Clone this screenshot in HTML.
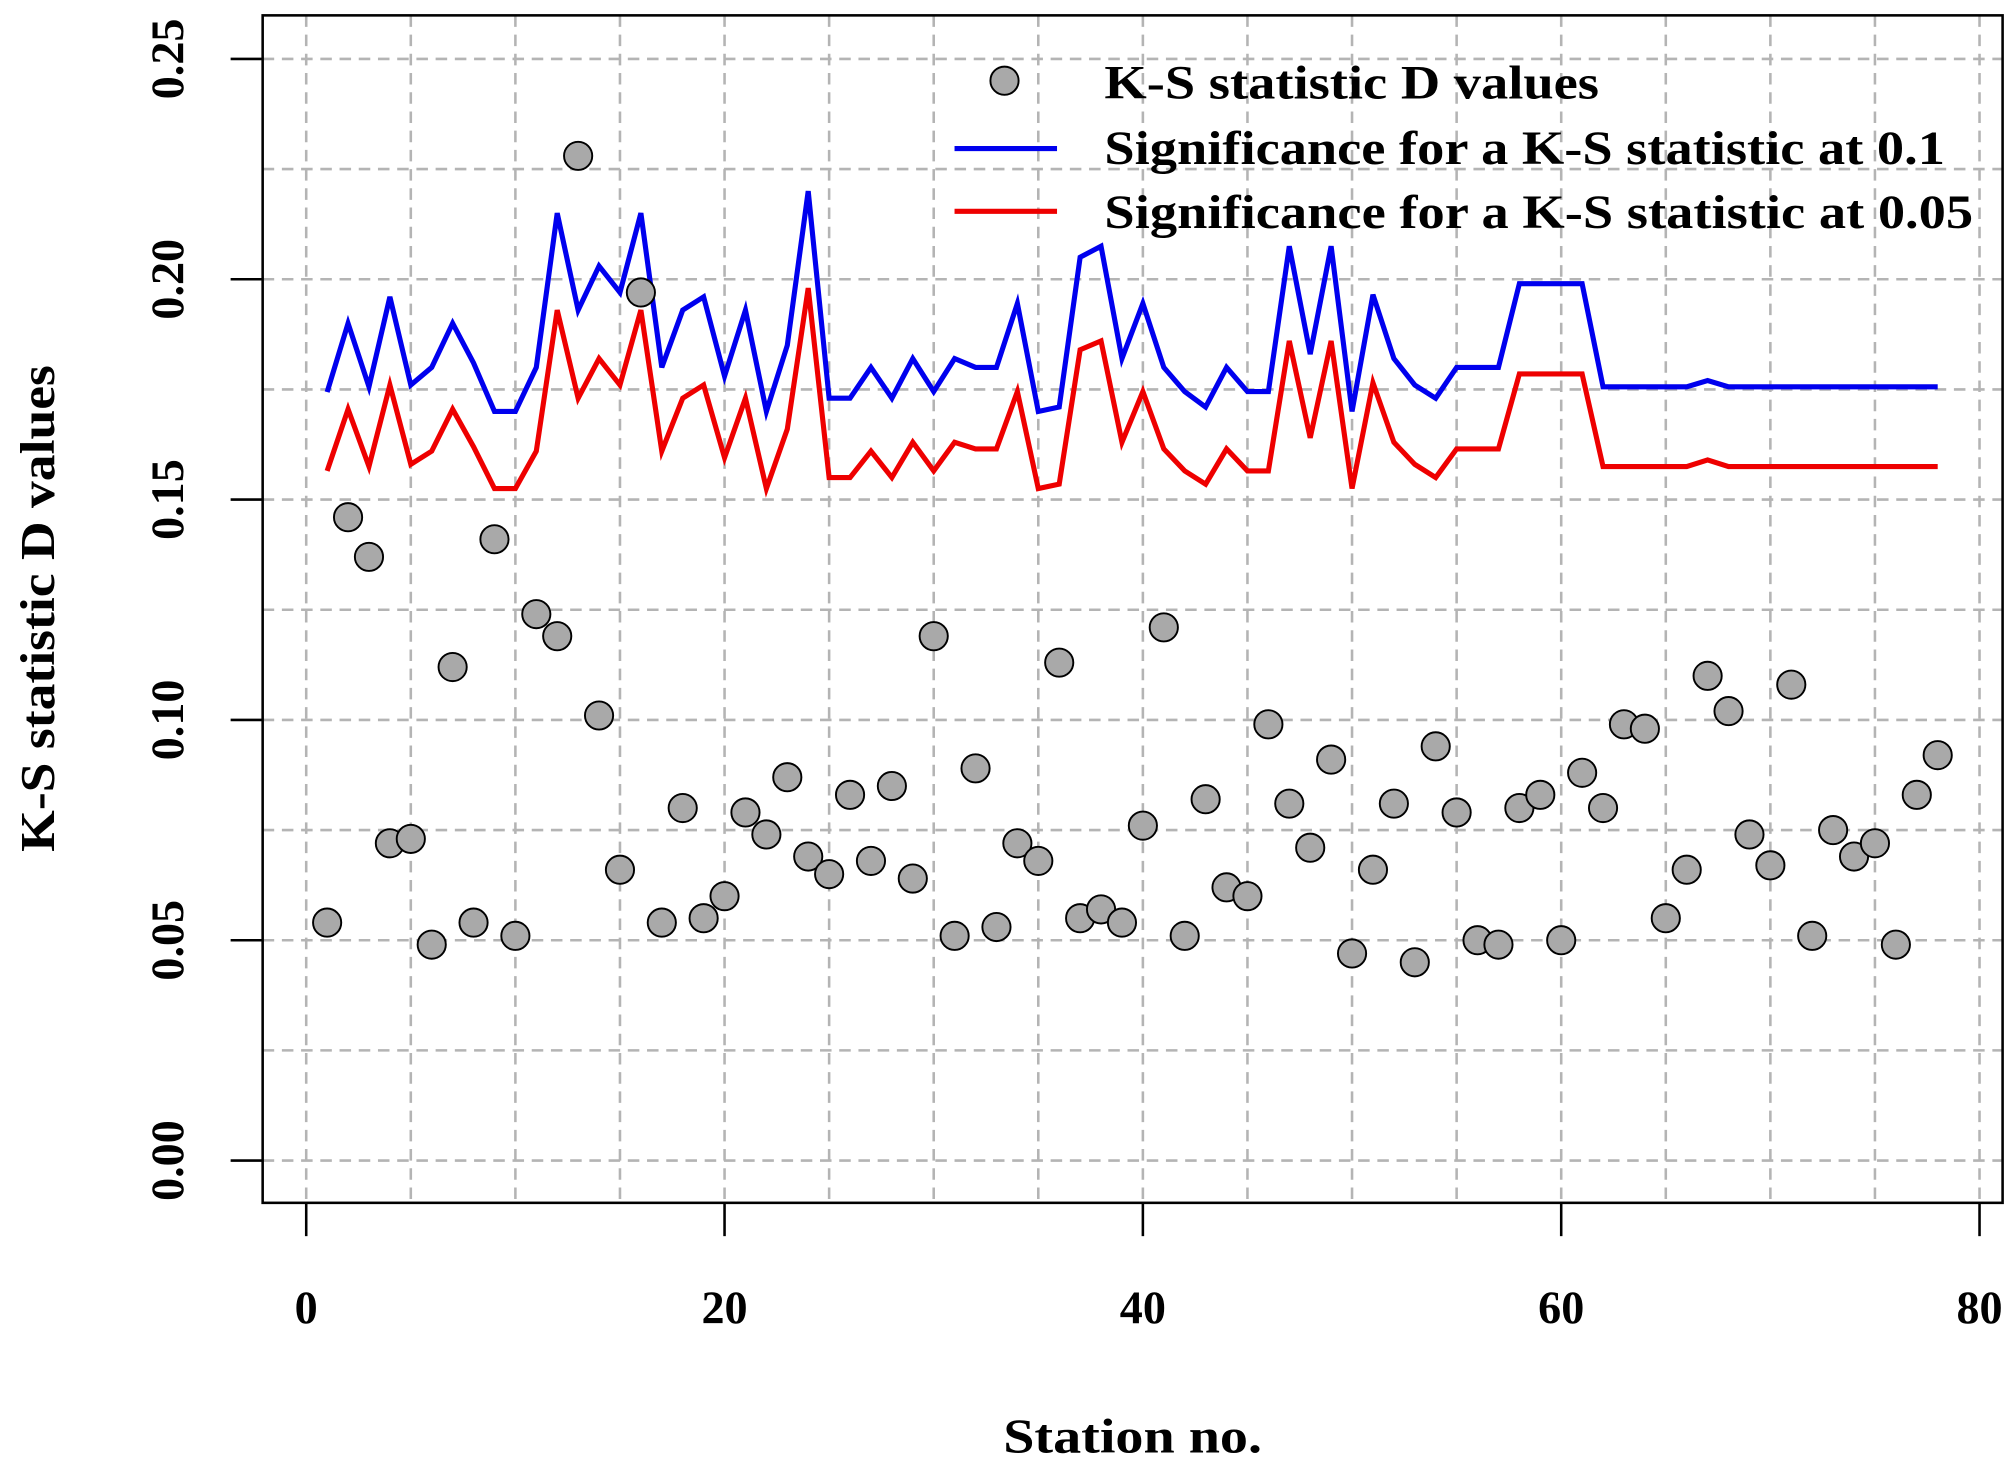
<!DOCTYPE html>
<html><head><meta charset="utf-8"><style>
html,body{margin:0;padding:0;background:#fff}
svg{display:block}
text{font-family:"Liberation Serif",serif;font-weight:bold;fill:#000}
</style></head><body>
<svg id="chart" width="2009" height="1468" viewBox="0 0 1568 1146" preserveAspectRatio="none" xmlns="http://www.w3.org/2000/svg">
<g id="grid"></g>
<g id="lines"></g>
<g id="pts"></g>
<rect x="205" y="12" width="1358" height="927" fill="none" stroke="#000" stroke-width="2"/>
<g id="axes"></g>
<text x="783" y="1134" font-size="38" textLength="202" lengthAdjust="spacingAndGlyphs">Station no.</text>
<text transform="translate(42,665) rotate(-90)" font-size="38" textLength="380" lengthAdjust="spacingAndGlyphs">K-S statistic D values</text>
<g>
<circle cx="784" cy="63" r="11" fill="#a9a9a9" stroke="#000" stroke-width="1.5"/>
<text x="862" y="77" font-size="37" textLength="386" lengthAdjust="spacingAndGlyphs">K-S statistic D values</text>
<line x1="745" y1="116" x2="825" y2="116" stroke="#0000ee" stroke-width="4"/>
<text x="862" y="128" font-size="37" textLength="656" lengthAdjust="spacingAndGlyphs">Significance for a K-S statistic at 0.1</text>
<line x1="745" y1="165" x2="825" y2="165" stroke="#ee0000" stroke-width="4"/>
<text x="862" y="178" font-size="37" textLength="678" lengthAdjust="spacingAndGlyphs">Significance for a K-S statistic at 0.05</text>
</g>
</svg>
<script>
const dValues=[0.054,0.146,0.137,0.072,0.073,0.049,0.112,0.054,0.141,0.051,0.124,0.119,0.228,0.101,0.066,0.197,0.054,0.080,0.055,0.060,0.079,0.074,0.087,0.069,0.065,0.083,0.068,0.085,0.064,0.119,0.051,0.089,0.053,0.072,0.068,0.113,0.055,0.057,0.054,0.076,0.121,0.051,0.082,0.062,0.060,0.099,0.081,0.071,0.091,0.047,0.066,0.081,0.045,0.094,0.079,0.050,0.049,0.080,0.083,0.050,0.088,0.080,0.099,0.098,0.055,0.066,0.110,0.102,0.074,0.067,0.108,0.051,0.075,0.069,0.072,0.049,0.083,0.092];
const sig10=[0.1744,0.190,0.1756,0.196,0.176,0.180,0.190,0.181,0.170,0.170,0.180,0.215,0.193,0.203,0.197,0.215,0.180,0.193,0.196,0.178,0.193,0.170,0.185,0.220,0.173,0.173,0.180,0.173,0.182,0.1745,0.182,0.180,0.180,0.1945,0.170,0.171,0.205,0.2075,0.182,0.1945,0.180,0.1745,0.171,0.180,0.1745,0.1745,0.2075,0.183,0.2075,0.170,0.1965,0.182,0.176,0.173,0.180,0.180,0.180,0.199,0.199,0.199,0.199,0.1756,0.1756,0.1756,0.1756,0.1756,0.177,0.1756,0.1756,0.1756,0.1756,0.1756,0.1756,0.1756,0.1756,0.1756,0.1756,0.1756];
const sig05=[0.1565,0.1705,0.1575,0.176,0.158,0.161,0.1705,0.162,0.1525,0.1525,0.161,0.193,0.173,0.182,0.176,0.193,0.161,0.173,0.176,0.1595,0.173,0.1525,0.166,0.198,0.155,0.155,0.161,0.155,0.163,0.1565,0.163,0.1615,0.1615,0.1745,0.1525,0.1535,0.184,0.186,0.163,0.1745,0.1615,0.1565,0.1535,0.1615,0.1565,0.1565,0.186,0.164,0.186,0.1525,0.1765,0.163,0.158,0.155,0.1615,0.1615,0.1615,0.1785,0.1785,0.1785,0.1785,0.1575,0.1575,0.1575,0.1575,0.1575,0.159,0.1575,0.1575,0.1575,0.1575,0.1575,0.1575,0.1575,0.1575,0.1575,0.1575,0.1575];
const xTicks=[0,20,40,60,80];
const yTicks=[0.00,0.05,0.10,0.15,0.20,0.25];
const NS="http://www.w3.org/2000/svg";
const X=v=>239+v*(1545-239)/80;
const Y=v=>906-v*(906-46)/0.25;
function mk(tag,attrs,parent){const e=document.createElementNS(NS,tag);for(const k in attrs)e.setAttribute(k,attrs[k]);parent.appendChild(e);return e;}
const grid=document.getElementById('grid');
for(let v=0;v<=80;v+=5){const l=mk('line',{x1:X(v),x2:X(v),y1:12,y2:939,stroke:'#b4b4b4','stroke-width':2,'stroke-dasharray':'9,6'},grid);

}
for(let v=0;v<=0.2501;v+=0.025){const l=mk('line',{x1:205,x2:1563,y1:Y(v),y2:Y(v),stroke:'#b4b4b4','stroke-width':2,'stroke-dasharray':'9,6'},grid);

}
const axes=document.getElementById('axes');
xTicks.forEach(v=>{const t=mk('line',{x1:X(v),x2:X(v),y1:939,y2:965,stroke:'#000','stroke-width':2},axes);


const s=mk('text',{x:X(v),y:1033,'font-size':36,'text-anchor':'middle'},axes);s.textContent=v;

});
yTicks.forEach(v=>{const t=mk('line',{x1:180,x2:205,y1:Y(v),y2:Y(v),stroke:'#000','stroke-width':2},axes);


const s=mk('text',{transform:`translate(143,${Y(v)}) rotate(-90)`,'font-size':36,'text-anchor':'middle'},axes);s.textContent=v.toFixed(2);

});
const lines=document.getElementById('lines');
[[sig10,'#0000ee','line-sig-0.1'],[sig05,'#ee0000','line-sig-0.05']].forEach(([arr,c,n])=>{
const p=mk('polyline',{points:arr.map((v,i)=>X(i+1)+','+Y(v)).join(' '),fill:'none',stroke:c,'stroke-width':4,'stroke-linejoin':'miter'},lines);

});
const pts=document.getElementById('pts');
dValues.forEach((v,i)=>{const c=mk('circle',{cx:X(i+1),cy:Y(v),r:11,fill:'#a9a9a9',stroke:'#000','stroke-width':1.5},pts);

});
</script>
</body></html>
